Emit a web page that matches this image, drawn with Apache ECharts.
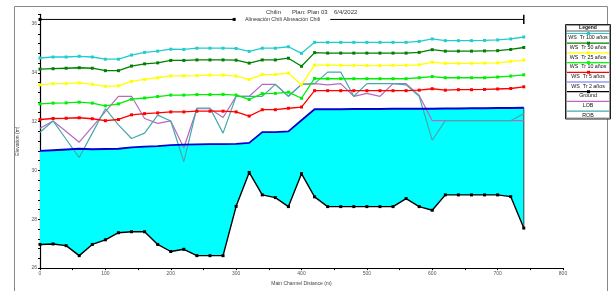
<!DOCTYPE html>
<html>
<head>
<meta charset="utf-8">
<script src="https://cdn.jsdelivr.net/npm/echarts@6/dist/echarts.min.js"></script>
<style>
  html, body { margin: 0; padding: 0; background: #fff; }
  #main { width: 613px; height: 291px; }
</style>
</head>
<body>
<div id="main"></div>
<script>
// river stations (m), every 20 m from 0 to 740
var stations = [];
for (var s = 0; s <= 740; s += 20) stations.push(s);

var ground = [26.97,26.99,26.92,26.51,26.97,27.16,27.45,27.49,27.49,26.97,26.68,26.77,26.51,26.51,26.51,28.53,29.92,29.0,28.89,28.52,29.87,
              28.92,28.52,28.52,28.52,28.52,28.52,28.52,28.85,28.52,28.37,29.0,29.0,29.0,29.0,29.0,28.93,27.64];
var ws2   = [30.8,30.83,30.86,30.89,30.87,30.88,30.89,30.95,30.98,31.0,31.04,31.06,31.07,31.08,31.08,31.09,31.13,31.57,31.57,31.6,32.06,
             32.51,32.51,32.51,32.52,32.52,32.52,32.53,32.53,32.53,32.53,32.54,32.54,32.55,32.55,32.56,32.56,32.57];
var ws5   = [32.09,32.13,32.14,32.16,32.12,32.04,32.09,32.28,32.33,32.36,32.4,32.4,32.43,32.43,32.43,32.4,32.23,32.49,32.49,32.55,32.6,
             33.27,33.27,33.27,33.27,33.27,33.27,33.27,33.27,33.29,33.35,33.29,33.31,33.31,33.32,33.34,33.36,33.43];
var ws10  = [32.73,32.76,32.77,32.8,32.76,32.65,32.73,32.92,32.97,33.03,33.09,33.09,33.11,33.11,33.12,33.09,32.91,33.15,33.16,33.21,32.96,
             33.77,33.76,33.76,33.76,33.76,33.76,33.76,33.76,33.8,33.85,33.8,33.8,33.8,33.8,33.83,33.87,33.92];
var ws25  = [33.51,33.56,33.56,33.59,33.53,33.45,33.47,33.65,33.73,33.8,33.88,33.88,33.89,33.91,33.91,33.87,33.73,33.93,33.93,33.99,33.51,
             34.32,34.32,34.31,34.31,34.3,34.3,34.31,34.31,34.33,34.44,34.39,34.39,34.39,34.4,34.41,34.47,34.52];
var ws50  = [34.15,34.17,34.19,34.21,34.19,34.09,34.09,34.28,34.37,34.41,34.51,34.51,34.53,34.53,34.53,34.52,34.4,34.53,34.53,34.6,34.27,
             34.83,34.81,34.81,34.81,34.81,34.81,34.81,34.81,34.84,34.95,34.89,34.89,34.89,34.9,34.91,34.96,35.04];
var ws100 = [34.61,34.65,34.65,34.68,34.65,34.56,34.56,34.73,34.84,34.89,34.97,34.96,35.01,35.01,35.01,35.0,34.88,35.01,35.01,35.07,34.8,
             35.25,35.25,35.25,35.25,35.25,35.25,35.25,35.25,35.29,35.39,35.32,35.32,35.32,35.33,35.35,35.39,35.47];
var lob   = [31.73,32.03,31.6,31.16,31.79,32.41,33.04,33.04,32.13,31.93,32.03,30.93,32.53,32.53,32.17,33.04,33.04,33.53,33.53,33.04,33.53,
             33.56,33.51,33.56,33.04,33.16,33.04,33.56,33.56,33.07,32.04,32.04,32.04,32.04,32.04,32.04,32.04,32.04];
var rob   = [31.57,32.03,31.28,30.53,31.53,32.53,31.87,31.31,31.53,32.27,32.03,30.36,32.56,32.56,31.53,33.04,33.04,33.04,33.53,33.04,33.53,
             33.56,34.03,34.03,33.04,33.56,33.56,33.56,33.51,33.04,31.24,32.04,32.04,32.04,32.04,32.04,32.04,32.33];

// reach marker along the top
var reachLevel = 36.19;
var reachLeft = [0, 297];
var reachRight = [444, 740];

var yLabels = [26, 28, 30, 32, 34, 36];

function pairs(ys) {
    var out = [];
    for (var i = 0; i < stations.length; i++) out.push([stations[i], ys[i]]);
    return out;
}

var font = 'Liberation Sans, Arial, sans-serif';

function wsLine(name, data, color, width, marker) {
    return {
        name: name, type: 'line', data: pairs(data),
        symbol: marker ? 'rect' : 'none', symbolSize: 3, showSymbol: !!marker,
        lineStyle: {color: color, width: width},
        itemStyle: {color: color},
        animation: false, z: 3
    };
}

// water between ground and WS Tr 2 as one polygon, placed through the axes
function renderWater(params, api) {
    var pts = [];
    for (var i = 0; i < stations.length; i++) pts.push(api.coord([stations[i], ws2[i]]));
    for (var j = stations.length - 1; j >= 0; j--) pts.push(api.coord([stations[j], ground[j]]));
    return {type: 'polygon', shape: {points: pts}, style: {fill: '#00FFFF', stroke: 'none'}};
}

var chart = echarts.init(document.getElementById('main'), null, {renderer: 'canvas'});

// legend rows drawn by hand (line sample above label like the original)
var legendItems = [
    {name: 'WS  Tr 100 años', color: '#22CCCC', marker: true},
    {name: 'WS  Tr 50 años', color: '#008000', marker: true},
    {name: 'WS  Tr 25 años', color: '#FFFF00', marker: true},
    {name: 'WS  Tr 10 años', color: '#00FF00', marker: true},
    {name: 'WS  Tr 5 años', color: '#FF0000', marker: true},
    {name: 'WS  Tr 2 años', color: '#6666FF', marker: false},
    {name: 'Ground', color: '#000000', marker: true},
    {name: 'LOB', color: '#B868C0', marker: false},
    {name: 'ROB', color: '#44AAAA', marker: false}
];
var graphics = [
    {type: 'rect', shape: {x: 14.5, y: 6.5, width: 593, height: 300}, style: {fill: 'none', stroke: '#888', lineWidth: 1}, silent: true},
    {type: 'text', x: 266, y: 9, style: {text: 'Chilin', font: '6px ' + font, fill: '#333'}},
    {type: 'text', x: 292, y: 9, style: {text: 'Plan: Plan 03', font: '6px ' + font, fill: '#333'}},
    {type: 'text', x: 334, y: 9, style: {text: '6/4/2022', font: '6px ' + font, fill: '#333'}},
    {type: 'text', x: 245, y: 17.3, style: {text: 'Alineación Chili Alineación Chili', font: '5.4px ' + font, fill: '#333'}},
    {type: 'rect', shape: {x: 565.5, y: 24.5, width: 45, height: 94.5}, style: {fill: '#fff', stroke: '#222', lineWidth: 1}, z: 10},
    {type: 'rect', shape: {x: 566.5, y: 25.5, width: 43, height: 92.5}, style: {fill: 'none', stroke: '#555', lineWidth: 0.6}, z: 10},
    {type: 'line', shape: {x1: 566.5, y1: 31, x2: 609.5, y2: 31}, style: {stroke: '#333', lineWidth: 0.8}, z: 10},
    {type: 'text', x: 588, y: 28, style: {text: 'Legend', font: 'bold 5px ' + font, fill: '#111', align: 'center', verticalAlign: 'middle'}, z: 11}
];
legendItems.forEach(function (it, k) {
    var ly = 33.5 + k * 9.7;
    graphics.push({type: 'line', shape: {x1: 567, y1: ly, x2: 609, y2: ly}, style: {stroke: it.color, lineWidth: 1.2}, z: 11});
    if (it.marker) {
        graphics.push({type: 'rect', shape: {x: 587, y: ly - 1.5, width: 3, height: 3}, style: {fill: it.color}, z: 11});
    }
    graphics.push({type: 'text', x: 588, y: ly + 4.3, style: {text: it.name, font: '5.3px ' + font, fill: '#111', align: 'center', verticalAlign: 'middle'}, z: 11});
});

var option = {
    backgroundColor: '#fff',
    animation: false,
    grid: {left: 40, right: 50, top: 14.3, bottom: 16},
    xAxis: {
        type: 'value', min: 0, max: 800, interval: 100,
        name: 'Main Channel Distance (m)', nameLocation: 'middle', nameGap: 9,
        nameTextStyle: {fontSize: 5, color: '#444', fontFamily: font},
        axisLine: {onZero: false, lineStyle: {color: '#000', width: 1.2}},
        axisTick: {length: 2, lineStyle: {color: '#000'}},
        minorTick: {show: true, splitNumber: 2, length: 2, lineStyle: {color: '#000'}},
        axisLabel: {fontSize: 5, color: '#555', margin: 3, fontFamily: font},
        splitLine: {show: false}
    },
    yAxis: {
        type: 'value', min: 26, max: 36.4, interval: 0.4,
        name: 'Elevation (m)', nameLocation: 'middle', nameGap: 20, nameRotate: 90,
        nameTextStyle: {fontSize: 5, color: '#444', fontFamily: font},
        axisLine: {show: true, onZero: false, lineStyle: {color: '#000', width: 1.2}},
        axisTick: {show: true, length: 2, lineStyle: {color: '#000'}},
        axisLabel: {
            fontSize: 5, color: '#555', margin: 3, fontFamily: font,
            formatter: function (v) {
                var r = Math.round(v);
                return (Math.abs(v - r) < 1e-6 && yLabels.indexOf(r) >= 0) ? String(r) : '';
            }
        },
        splitLine: {show: false}
    },
    graphic: graphics,
    series: [
        {name: 'water', type: 'custom', renderItem: renderWater, data: [[0, ws2[0]]],
         clip: true, z: 1, silent: true},
        {name: 'end', type: 'line', data: [[740, ground[ground.length - 1]], [740, ws2[ws2.length - 1]]],
         symbol: 'none', lineStyle: {color: '#336666', width: 1.2}, z: 2},
        wsLine('LOB', lob, '#B868C0', 1.2, false),
        wsLine('ROB', rob, '#44AAAA', 1.2, false),
        wsLine('WS Tr 2 años', ws2, '#0000CC', 1.8, false),
        wsLine('WS Tr 5 años', ws5, '#FF0000', 1.3, true),
        wsLine('WS Tr 10 años', ws10, '#00EE00', 1.3, true),
        wsLine('WS Tr 25 años', ws25, '#FFFF00', 1.3, true),
        wsLine('WS Tr 50 años', ws50, '#008000', 1.3, true),
        wsLine('WS Tr 100 años', ws100, '#22CCCC', 1.3, true),
        wsLine('Ground', ground, '#000000', 1.4, true),
        {name: 'reachL', type: 'line', data: [[reachLeft[0], reachLevel], [reachLeft[1], reachLevel]],
         symbol: ['rect', 'none'], symbolSize: 3, showSymbol: true, itemStyle: {color: '#000'},
         lineStyle: {color: '#000', width: 1}},
        {name: 'reachR', type: 'line', data: [[reachRight[0], reachLevel], [reachRight[1], reachLevel]],
         symbol: 'none', lineStyle: {color: '#000', width: 1}},
        {name: 'reachEnd', type: 'line', data: [[reachRight[1], 36.0], [reachRight[1], 36.38]],
         symbol: 'none', lineStyle: {color: '#000', width: 1.5}}
    ]
};
chart.setOption(option);
</script>
</body>
</html>
